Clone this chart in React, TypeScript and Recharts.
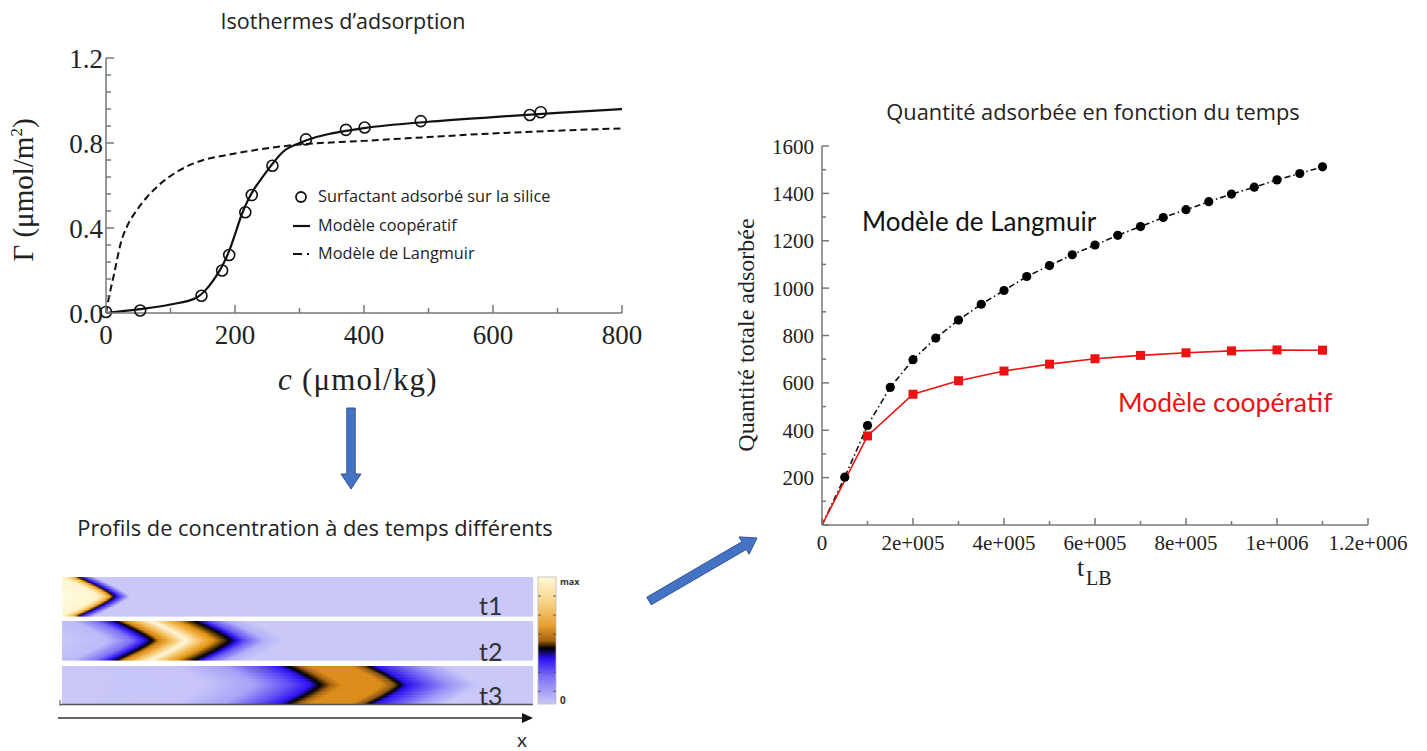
import React from "react";
import { LineChart, Line, XAxis, YAxis } from "recharts";

// ---- Isothermes d'adsorption (left chart)
const expC = [0, 53, 148, 180, 191, 216, 226, 258, 310, 372, 401, 488, 657, 674];
const expG = [0.005, 0.012, 0.081, 0.2, 0.273, 0.474, 0.555, 0.693, 0.817, 0.862, 0.873, 0.903, 0.932, 0.945];

const coopC = [0, 50, 100, 140, 155, 170, 180, 190, 200, 210, 220, 230, 240, 255, 275, 300, 325, 350, 400, 500, 600, 700, 800];
const coopG = [0, 0.017, 0.04, 0.072, 0.11, 0.17, 0.22, 0.285, 0.37, 0.46, 0.53, 0.585, 0.628, 0.69, 0.76, 0.8, 0.827, 0.845, 0.87, 0.9, 0.922, 0.942, 0.96];

const langC = [0, 3, 13, 23, 33, 48, 64, 85, 115, 151, 187, 238, 290, 400, 500, 600, 700, 800];
const langG = [0, 0.05, 0.19, 0.33, 0.41, 0.485, 0.547, 0.61, 0.673, 0.72, 0.743, 0.77, 0.79, 0.81, 0.828, 0.845, 0.858, 0.869];

const isoXTicks = [0, 100, 200, 300, 400, 500, 600, 700, 800];
const isoXMajor = [0, 200, 400, 600, 800];
const isoXLabels = ["0", "200", "400", "600", "800"];
const isoYTicks = [0, 0.08, 0.16, 0.24, 0.32, 0.4, 0.48, 0.56, 0.64, 0.72, 0.8, 0.88, 0.96, 1.04, 1.12, 1.2];
const isoYMajor = [0, 0.4, 0.8, 1.2];
const isoYLabels = ["0.0", "0.4", "0.8", "1.2"];

// ---- Quantité adsorbée en fonction du temps (right chart)
const langT = [0, 50000, 100000, 150000, 200000, 250000, 300000, 350000, 400000, 450000, 500000, 550000, 600000, 650000, 700000, 750000, 800000, 850000, 900000, 950000, 1000000, 1050000, 1100000];
const langQ = [0, 202, 420, 581, 698, 789, 865, 932, 990, 1049, 1095, 1141, 1182, 1223, 1260, 1298, 1331, 1365, 1397, 1426, 1457, 1484, 1512];

const coopT = [0, 100000, 200000, 300000, 400000, 500000, 600000, 700000, 800000, 900000, 1000000, 1100000];
const coopQ = [0, 376, 552, 609, 650, 679, 702, 716, 727, 735, 739, 738];

const tXTicks = [0, 100000, 200000, 300000, 400000, 500000, 600000, 700000, 800000, 900000, 1000000, 1100000, 1200000];
const tXMajor = [0, 200000, 400000, 600000, 800000, 1000000, 1200000];
const tXLabels = ["0", "2e+005", "4e+005", "6e+005", "8e+005", "1e+006", "1.2e+006"];
const tYTicks = [0, 100, 200, 300, 400, 500, 600, 700, 800, 900, 1000, 1100, 1200, 1300, 1400, 1500, 1600];
const tYMajor = [0, 200, 400, 600, 800, 1000, 1200, 1400, 1600];
const tYLabels = ["", "200", "400", "600", "800", "1000", "1200", "1400", "1600"];

// ---- concentration profiles (illustration, x position of colour stops on the strip centre line)
const profile1: [number, string][] = [
  [62, "#fffbe2"], [98, "#fff4cc"], [105, "#f8cf78"], [110, "#e8981e"], [114, "#1a0a00"], [117, "#2a10f0"], [122, "#6a5cf4"], [130, "#c9c8f8"],
];
const profile2: [number, string][] = [
  [62, "#c9c8f8"], [108, "#bcbaf8"], [132, "#7c70f5"], [145, "#2a10f0"], [152, "#000000"], [159, "#d5820e"], [172, "#f6bf5c"], [186, "#fff6dc"],
  [201, "#f6bf5c"], [214, "#e0900f"], [230, "#000000"], [237, "#2a10f0"], [246, "#6a5cf4"], [264, "#b3b0f7"], [285, "#c9c8f8"],
];
const profile3: [number, string][] = [
  [62, "#c9c8f8"], [205, "#c6c4f8"], [255, "#a7a1f7"], [292, "#5c48f4"], [311, "#2a10f0"], [320, "#000000"], [331, "#a86410"], [342, "#dc8c18"],
  [382, "#dc8c18"], [394, "#8a5410"], [400, "#000000"], [407, "#2a10f0"], [424, "#5c48f4"], [450, "#9c96f6"], [478, "#c9c8f8"],
];

const SERIF = "'Liberation Serif', 'DejaVu Serif', serif";
const SANS = "'Open Sans', 'Noto Sans', sans-serif";
const NOTE = "Lato, 'Open Sans', sans-serif";
const AXIS = "#777";

const near = (a: number, b: number) => Math.abs(a - b) < 1e-6 * Math.max(1, Math.abs(b));

function boxTick(
  side: "bottom" | "top" | "left" | "right",
  majors: number[],
  labels: string[] | null,
  gap: number,
  fontSize: number,
  majorLen: number,
  minorLen: number
) {
  return (props: any) => {
    const { x, y, payload } = props;
    const v = payload.value as number;
    const mi = majors.findIndex((m) => near(v, m));
    const len = mi >= 0 ? majorLen : minorLen;
    const label = mi >= 0 && labels ? labels[mi] : "";
    const common = { stroke: AXIS, strokeWidth: 1.5 };
    if (side === "bottom") {
      const ay = y - gap;
      return (
        <g>
          <line x1={x} y1={ay} x2={x} y2={ay - len} {...common} />
          {label && (
            <text x={x} y={y} dy="0.72em" textAnchor="middle" fontFamily={SERIF} fontSize={fontSize} fill="#222">
              {label}
            </text>
          )}
        </g>
      );
    }
    if (side === "top") {
      return <line x1={x} y1={y} x2={x} y2={y + len} {...common} />;
    }
    if (side === "left") {
      const ax = x + gap;
      return (
        <g>
          <line x1={ax} y1={y} x2={ax + len} y2={y} {...common} />
          {label && (
            <text x={x} y={y} dy="0.36em" textAnchor="end" fontFamily={SERIF} fontSize={fontSize} fill="#222">
              {label}
            </text>
          )}
        </g>
      );
    }
    return <line x1={x - len} y1={y} x2={x} y2={y} {...common} />;
  };
}

const HollowDot = (props: any) => {
  const { cx, cy } = props;
  return <circle cx={cx} cy={cy} r={5.5} fill="none" stroke="#111" strokeWidth={1.6} />;
};

const BlackDot = (props: any) => {
  const { cx, cy, index } = props;
  if (index === 0) return <g />;
  return <circle cx={cx} cy={cy} r={4.6} fill="#000" />;
};

const RedSquare = (props: any) => {
  const { cx, cy, index } = props;
  if (index === 0) return <g />;
  return <rect x={cx - 4.5} y={cy - 4.5} width={9} height={9} fill="#ee1111" />;
};

function IsothermChart() {
  const exp = expC.map((c, i) => ({ c, g: expG[i] }));
  const coop = coopC.map((c, i) => ({ c, g: coopG[i] }));
  const lang = langC.map((c, i) => ({ c, g: langG[i] }));
  return (
    <LineChart width={650} height={400} margin={{ top: 58, right: 28, bottom: 47, left: 0 }}>
      <XAxis
        xAxisId="b"
        dataKey="c"
        type="number"
        domain={[0, 800]}
        ticks={isoXTicks}
        interval={0}
        height={40}
        tickSize={0}
        tickMargin={12}
        tickLine={false}
        axisLine={{ stroke: AXIS, strokeWidth: 1.5 }}
        tick={boxTick("bottom", isoXMajor, isoXLabels, 12, 27, 8, 5)}
        allowDuplicatedCategory={false}
      />
      <XAxis
        xAxisId="t"
        orientation="top"
        dataKey="c"
        type="number"
        domain={[0, 800]}
        ticks={isoXTicks}
        interval={0}
        height={0}
        tickSize={0}
        tickMargin={0}
        tickLine={false}
        axisLine={{ stroke: AXIS, strokeWidth: 1.5 }}
        tick={boxTick("top", isoXMajor, null, 0, 27, 8, 5)}
      />
      <YAxis
        yAxisId="l"
        type="number"
        domain={[0, 1.2]}
        ticks={isoYTicks}
        interval={0}
        width={106}
        tickSize={0}
        tickMargin={3}
        tickLine={false}
        axisLine={{ stroke: AXIS, strokeWidth: 1.5 }}
        tick={boxTick("left", isoYMajor, isoYLabels, 3, 27, 8, 5)}
      />
      <YAxis
        yAxisId="r"
        orientation="right"
        type="number"
        domain={[0, 1.2]}
        ticks={isoYTicks}
        interval={0}
        width={0}
        tickSize={0}
        tickMargin={0}
        tickLine={false}
        axisLine={{ stroke: AXIS, strokeWidth: 1.5 }}
        tick={boxTick("right", isoYMajor, null, 0, 27, 8, 5)}
      />
      <Line
        xAxisId="b"
        yAxisId="l"
        data={lang}
        dataKey="g"
        type="monotone"
        stroke="#111"
        strokeWidth={2}
        strokeDasharray="7 4"
        dot={false}
        isAnimationActive={false}
      />
      <Line
        xAxisId="b"
        yAxisId="l"
        data={coop}
        dataKey="g"
        type="monotone"
        stroke="#111"
        strokeWidth={2.2}
        dot={false}
        isAnimationActive={false}
      />
      <Line
        xAxisId="b"
        yAxisId="l"
        data={exp}
        dataKey="g"
        stroke="none"
        dot={<HollowDot />}
        isAnimationActive={false}
      />
    </LineChart>
  );
}

function TimeChart() {
  const lang = langT.map((t, i) => ({ t, q: langQ[i] }));
  const coop = coopT.map((t, i) => ({ t, q: coopQ[i] }));
  return (
    <LineChart width={740} height={500} margin={{ top: 46, right: 72, bottom: 45, left: 0 }}>
      <XAxis
        xAxisId="b"
        dataKey="t"
        type="number"
        domain={[0, 1200000]}
        ticks={tXTicks}
        interval={0}
        height={30}
        tickSize={0}
        tickMargin={10}
        tickLine={false}
        axisLine={{ stroke: AXIS, strokeWidth: 1.5 }}
        tick={boxTick("bottom", tXMajor, tXLabels, 10, 21, 7, 4)}
      />
      <XAxis
        xAxisId="t"
        orientation="top"
        dataKey="t"
        type="number"
        domain={[0, 1200000]}
        ticks={tXTicks}
        interval={0}
        height={0}
        tickSize={0}
        tickMargin={0}
        tickLine={false}
        axisLine={{ stroke: AXIS, strokeWidth: 1.5 }}
        tick={boxTick("top", tXMajor, null, 0, 21, 7, 4)}
      />
      <YAxis
        yAxisId="l"
        type="number"
        domain={[0, 1600]}
        ticks={tYTicks}
        interval={0}
        width={122}
        tickSize={0}
        tickMargin={8}
        tickLine={false}
        axisLine={{ stroke: AXIS, strokeWidth: 1.5 }}
        tick={boxTick("left", tYMajor, tYLabels, 8, 21, 7, 4)}
      />
      <YAxis
        yAxisId="r"
        orientation="right"
        type="number"
        domain={[0, 1600]}
        ticks={tYTicks}
        interval={0}
        width={0}
        tickSize={0}
        tickMargin={0}
        tickLine={false}
        axisLine={{ stroke: AXIS, strokeWidth: 1.5 }}
        tick={boxTick("right", tYMajor, null, 0, 21, 7, 4)}
      />
      <Line
        xAxisId="b"
        yAxisId="l"
        data={lang}
        dataKey="q"
        type="linear"
        stroke="#111"
        strokeWidth={1.6}
        strokeDasharray="6 3 1.5 3"
        dot={<BlackDot />}
        isAnimationActive={false}
      />
      <Line
        xAxisId="b"
        yAxisId="l"
        data={coop}
        dataKey="q"
        type="linear"
        stroke="#ee1111"
        strokeWidth={1.6}
        dot={<RedSquare />}
        isAnimationActive={false}
      />
    </LineChart>
  );
}

function Strip({ id, y, h, amp, stops }: { id: string; y: number; h: number; amp: number; stops: [number, string][] }) {
  const x0 = 62;
  const x1 = 533;
  const n = 26;
  const sh = h / n;
  const rows = [];
  for (let i = 0; i < n; i++) {
    const yc = y + (i + 0.5) * sh;
    const d = Math.abs(yc - (y + h / 2)) / (h / 2);
    const shift = -amp * Math.pow(d, 1.25);
    rows.push({ i, ry: y + i * sh, shift });
  }
  return (
    <g>
      <defs>
        {rows.map((r) => (
          <linearGradient key={r.i} id={`${id}-${r.i}`} gradientUnits="userSpaceOnUse" x1={x0 + r.shift} x2={x1 + r.shift} y1={0} y2={0}>
            {stops.map(([s, c], k) => (
              <stop key={k} offset={(s - x0) / (x1 - x0)} stopColor={c} />
            ))}
          </linearGradient>
        ))}
      </defs>
      {rows.map((r) => (
        <rect key={r.i} x={x0} y={r.ry} width={x1 - x0} height={sh + 0.6} fill={`url(#${id}-${r.i})`} />
      ))}
    </g>
  );
}

function arrowPath(xa: number, ya: number, xb: number, yb: number, hw: number, headW: number, headL: number) {
  const dx = xb - xa;
  const dy = yb - ya;
  const L = Math.hypot(dx, dy);
  const ux = dx / L;
  const uy = dy / L;
  const nx = -uy;
  const ny = ux;
  const bx = xb - ux * headL;
  const by = yb - uy * headL;
  const p = (x: number, y: number) => `${x.toFixed(1)},${y.toFixed(1)}`;
  return [
    "M", p(xa + nx * hw, ya + ny * hw),
    "L", p(bx + nx * hw, by + ny * hw),
    "L", p(bx + nx * headW, by + ny * headW),
    "L", p(xb, yb),
    "L", p(bx - nx * headW, by - ny * headW),
    "L", p(bx - nx * hw, by - ny * hw),
    "L", p(xa - nx * hw, ya - ny * hw),
    "Z",
  ].join(" ");
}

export default function App() {
  const abs = (l: number, t: number): React.CSSProperties => ({ position: "absolute", left: l, top: t, whiteSpace: "nowrap" });
  const centered = (cx: number, t: number): React.CSSProperties => ({ ...abs(cx, t), transform: "translateX(-50%)" });
  return (
    <div style={{ position: "absolute", left: 0, top: 0, width: 1427, height: 751, background: "#fff", overflow: "hidden" }}>
      {/* decorative layer: profiles, arrows */}
      <svg width={1427} height={751} style={{ position: "absolute", left: 0, top: 0 }}>
        <defs>
          <linearGradient id="cbar" x1="0" x2="0" y1="0" y2="1">
            <stop offset="0" stopColor="#fff8d8" />
            <stop offset="0.18" stopColor="#f9d890" />
            <stop offset="0.38" stopColor="#e8a030" />
            <stop offset="0.5" stopColor="#a86410" />
            <stop offset="0.56" stopColor="#000000" />
            <stop offset="0.64" stopColor="#2a10f0" />
            <stop offset="0.78" stopColor="#7a6ef5" />
            <stop offset="1" stopColor="#c9c8f8" />
          </linearGradient>
        </defs>
        <Strip id="s1" y={577} h={39} amp={36} stops={profile1} />
        <Strip id="s2" y={621} h={39} amp={36} stops={profile2} />
        <Strip id="s3" y={666} h={38} amp={32} stops={profile3} />
        <line x1={60} y1={704.5} x2={533} y2={704.5} stroke="#555" strokeWidth={1.5} />
        <line x1={60} y1={700} x2={60} y2={706} stroke="#555" strokeWidth={1} />
        <rect x={538} y={577} width={18} height={127} fill="url(#cbar)" stroke="#bbb" strokeWidth={0.8} />
        {[0.15, 0.3, 0.45, 0.6, 0.75, 0.9].map((f) => (
          <g key={f}>
            <line x1={538} y1={577 + f * 127} x2={541} y2={577 + f * 127} stroke="#444" strokeWidth={0.8} />
            <line x1={553} y1={577 + f * 127} x2={556} y2={577 + f * 127} stroke="#444" strokeWidth={0.8} />
          </g>
        ))}
        <text x={560} y={585} fontFamily={SANS} fontSize={9} fontWeight={700} fill="#333">max</text>
        <text x={560} y={704} fontFamily={SANS} fontSize={10} fontWeight={700} fill="#333">0</text>
        <line x1={58} y1={718} x2={524} y2={718} stroke="#333" strokeWidth={1.5} />
        <path d="M 522 713 L 533 718 L 522 723 Z" fill="#111" />
        <path d={arrowPath(351, 408, 351, 489, 4.2, 10, 15)} fill="#4472c4" stroke="#2f5597" strokeWidth={1} />
        <path d={arrowPath(649, 601, 757, 538, 4.4, 10, 15)} fill="#4472c4" stroke="#2f5597" strokeWidth={1} />
      </svg>

      <div style={{ ...abs(0, 0) }}>
        <IsothermChart />
      </div>
      <div style={{ ...abs(700, 100) }}>
        <TimeChart />
      </div>

      {/* titles */}
      <div style={{ ...centered(343, 6), fontFamily: SANS, fontSize: 21.5, color: "#222" }}>Isothermes d’adsorption</div>
      <div style={{ ...centered(1093, 97), fontFamily: SANS, fontSize: 21.8, color: "#222" }}>Quantité adsorbée en fonction du temps</div>
      <div style={{ ...centered(315, 513), fontFamily: SANS, fontSize: 21.8, color: "#222" }}>Profils de concentration à des temps différents</div>

      {/* left axis titles */}
      <div
        style={{
          ...abs(23, 190),
          transform: "translate(-50%, -50%) rotate(-90deg)",
          fontFamily: SERIF,
          fontSize: 29,
          color: "#222",
        }}
      >
        Γ (μmol/m<sup style={{ fontSize: 17 }}>2</sup>)
      </div>
      <div style={{ ...abs(278, 362), fontFamily: SERIF, fontSize: 31, letterSpacing: 1.2, color: "#222" }}>
        <i>c</i> (μmol/kg)
      </div>

      {/* legend of the isotherm chart */}
      <svg width={30} height={80} style={{ position: "absolute", left: 290, top: 185 }}>
        <circle cx={11} cy={12} r={5} fill="none" stroke="#111" strokeWidth={1.8} />
        <line x1={3} y1={41} x2={20} y2={41} stroke="#111" strokeWidth={2.2} />
        <line x1={3} y1={69} x2={12} y2={69} stroke="#111" strokeWidth={2} />
        <line x1={17} y1={69} x2={19} y2={69} stroke="#111" strokeWidth={2} />
      </svg>
      <div style={{ ...abs(318, 185), fontFamily: SANS, fontSize: 16.3, color: "#222" }}>Surfactant adsorbé sur la silice</div>
      <div style={{ ...abs(318, 214), fontFamily: SANS, fontSize: 16.3, color: "#222" }}>Modèle coopératif</div>
      <div style={{ ...abs(318, 242), fontFamily: SANS, fontSize: 16.3, color: "#222" }}>Modèle de Langmuir</div>

      {/* right axis titles */}
      <div
        style={{
          ...abs(746, 335),
          transform: "translate(-50%, -50%) rotate(-90deg)",
          fontFamily: SERIF,
          fontSize: 24,
          color: "#222",
        }}
      >
        Quantité totale adsorbée
      </div>
      <div style={{ ...abs(1077, 561), fontFamily: SERIF, fontSize: 26, lineHeight: "14px", color: "#222" }}>t</div>
      <div style={{ ...abs(1086, 571), fontFamily: SERIF, fontSize: 20, lineHeight: "14px", color: "#222" }}>LB</div>

      {/* series annotations */}
      <div style={{ ...abs(862, 205), fontFamily: NOTE, fontSize: 26, color: "#111" }}>Modèle de Langmuir</div>
      <div style={{ ...abs(1118, 386), fontFamily: NOTE, fontSize: 26.5, color: "#ee1111" }}>Modèle coopératif</div>

      {/* profile labels */}
      <div style={{ ...abs(479, 590), fontFamily: NOTE, fontSize: 25, color: "#333" }}>t1</div>
      <div style={{ ...abs(479, 636), fontFamily: NOTE, fontSize: 25, color: "#333" }}>t2</div>
      <div style={{ ...abs(479, 680), fontFamily: NOTE, fontSize: 25, color: "#333" }}>t3</div>
      <div style={{ ...abs(517, 727), fontFamily: NOTE, fontSize: 20, color: "#333" }}>x</div>
    </div>
  );
}
